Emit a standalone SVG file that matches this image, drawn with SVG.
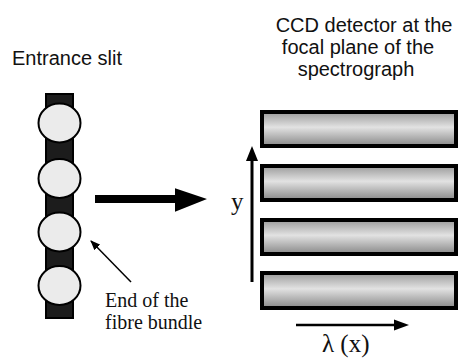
<svg xmlns="http://www.w3.org/2000/svg" width="459" height="359" viewBox="0 0 459 359">
<style>
.sans{font-family:"Liberation Sans",Arial,Helvetica,sans-serif;font-size:20px;fill:#111}
.serif{font-family:"Liberation Serif","Times New Roman",serif;fill:#111}
.fibre{fill:#ebebeb;stroke:#000;stroke-width:2}
.ccd{fill:url(#g);stroke:#000;stroke-width:4}
.ln{stroke:#000;fill:none}
</style>
<defs>
<linearGradient id="g" x1="0" y1="0" x2="0" y2="1">
<stop offset="0" stop-color="#9a9a9a"/>
<stop offset="0.45" stop-color="#e2e2e2"/>
<stop offset="1" stop-color="#888"/>
</linearGradient>
<marker id="ah" markerWidth="10" markerHeight="8" refX="9" refY="4" orient="auto" markerUnits="userSpaceOnUse">
<path d="M0,0 L10,4 L0,8 z" fill="#000"/>
</marker>
</defs>
<rect width="459" height="359" fill="#fff"/>
<text class="sans" x="12" y="65">Entrance slit</text>
<g id="ccd-label">
<text class="sans" x="364" y="32" text-anchor="middle">CCD detector at the</text>
<text class="sans" x="358" y="54" text-anchor="middle">focal plane of the</text>
<text class="sans" x="356" y="76" text-anchor="middle">spectrograph</text>
</g>
<g id="slit">
<rect x="46" y="94" width="27" height="224" fill="#1c1c1c" stroke="#000" stroke-width="2"/>
<ellipse class="fibre" cx="59.5" cy="123" rx="21" ry="19.5"/>
<ellipse class="fibre" cx="59.5" cy="178.5" rx="21" ry="19.5"/>
<ellipse class="fibre" cx="59.5" cy="232" rx="21" ry="19.5"/>
<ellipse class="fibre" cx="59.5" cy="285.5" rx="21" ry="19.5"/>
</g>
<g id="ccd">
<rect class="ccd" x="262" y="112" width="194" height="34"/>
<rect class="ccd" x="262" y="166" width="194" height="34"/>
<rect class="ccd" x="262" y="220" width="194" height="34"/>
<rect class="ccd" x="262" y="273" width="194" height="35"/>
</g>
<g id="fibre-label">
<text class="serif" x="105" y="307" font-size="20">End of the</text>
<text class="serif" x="105" y="329" font-size="20">fibre bundle</text>
</g>
<text id="y-label" class="serif" x="231" y="210" font-size="25">y</text>
<text id="lambda-label" class="serif" x="322" y="352" font-size="25">λ (x)</text>
<g id="connectors">
<path d="M95,195 L175,195 L175,188.3 L207,199 L175,211.7 L175,203 L95,203 z" fill="#000"/>
<line class="ln" x1="131" y1="282" x2="91" y2="241" stroke-width="1.5" marker-end="url(#ah)"/>
<line class="ln" x1="252" y1="282" x2="252" y2="158" stroke-width="3"/>
<path d="M252,146 L258,161 L246,161 z" fill="#000"/>
<line class="ln" x1="296" y1="325" x2="395" y2="325" stroke-width="2.5"/>
<path d="M409,325 L394,319.5 L394,330.5 z" fill="#000"/>
</g>
</svg>
